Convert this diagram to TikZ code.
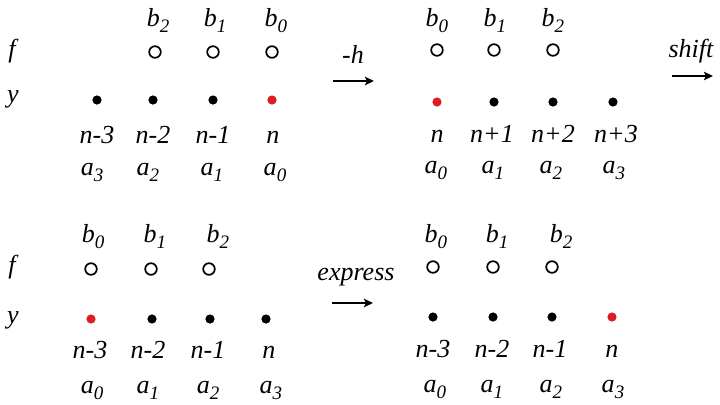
\documentclass[tikz,border=0pt]{standalone}
\usepackage{fontspec}
\setmainfont{Liberation Serif}
\usetikzlibrary{arrows.meta}
\definecolor{dotred}{RGB}{222,28,36}
\newcommand{\idx}[1]{\raisebox{-3pt}{\fontsize{9.5}{9.5}\selectfont #1}}

\tikzstyle{lab} = [anchor=base, inner sep=0pt, font=\fontsize{13}{13}\selectfont\itshape]
\tikzstyle{fdot} = [circle, draw=black, line width=0.85pt, fill=white, minimum size=5.8pt, inner sep=0pt]
\tikzstyle{ydot} = [circle, fill=black, minimum size=4.6pt, inner sep=0pt]
\tikzstyle{ydotred} = [circle, fill=dotred, minimum size=4.6pt, inner sep=0pt]
\tikzstyle{arrow} = [line width=1.1pt,-{Stealth[length=4.5pt,width=4.2pt,inset=1pt]}]

\begin{document}
\begin{tikzpicture}[x=0.5pt, y=-0.5pt]
\useasboundingbox (0,0) rectangle (720,404);

% top left
\node (Af) [lab] at (12,57) {f};
\node (Ay) [lab] at (13,102) {y};
\node (Ab2) [lab] at (158,26) {b\idx{2}};
\node (Ab1) [lab] at (215,26) {b\idx{1}};
\node (Ab0) [lab] at (276,26) {b\idx{0}};
\node (Ac2) [fdot] at (155,52) {};
\node (Ac1) [fdot] at (213,52) {};
\node (Ac0) [fdot] at (272,52) {};
\node (Ad3) [ydot] at (97,100) {};
\node (Ad2) [ydot] at (153,100) {};
\node (Ad1) [ydot] at (213,100) {};
\node (Ad0) [ydotred] at (272,100) {};
\node (An3) [lab] at (97,143) {n-3};
\node (An2) [lab] at (153,143) {n-2};
\node (An1) [lab] at (213,143) {n-1};
\node (An0) [lab] at (273,143) {n};
\node (Aa3) [lab] at (92,175) {a\idx{3}};
\node (Aa2) [lab] at (148,175) {a\idx{2}};
\node (Aa1) [lab] at (212,175) {a\idx{1}};
\node (Aa0) [lab] at (275,175) {a\idx{0}};

% -h
\node (hlab) [lab] at (353,63) {-h};
\coordinate (h1) at (333,81);
\coordinate (h2) at (374,81);
\draw [arrow] (h1) -- (h2);

% top right
\node (Bb0) [lab] at (437,26) {b\idx{0}};
\node (Bb1) [lab] at (495,26) {b\idx{1}};
\node (Bb2) [lab] at (553,26) {b\idx{2}};
\node (Bc0) [fdot] at (437,50) {};
\node (Bc1) [fdot] at (494,50) {};
\node (Bc2) [fdot] at (553,50) {};
\node (Bd0) [ydotred] at (437,102) {};
\node (Bd1) [ydot] at (494,102) {};
\node (Bd2) [ydot] at (553,102) {};
\node (Bd3) [ydot] at (613,102) {};
\node (Bn0) [lab] at (437,142) {n};
\node (Bn1) [lab] at (492,142) {n+1};
\node (Bn2) [lab] at (553,142) {n+2};
\node (Bn3) [lab] at (616,142) {n+3};
\node (Ba0) [lab] at (436,173) {a\idx{0}};
\node (Ba1) [lab] at (493,173) {a\idx{1}};
\node (Ba2) [lab] at (551,173) {a\idx{2}};
\node (Ba3) [lab] at (614,173) {a\idx{3}};

% shift
\node (slab) [lab] at (691,57) {shift};
\coordinate (s1) at (672,76);
\coordinate (s2) at (713,76);
\draw [arrow] (s1) -- (s2);

% bottom left
\node (Cf) [lab] at (12,273) {f};
\node (Cy) [lab] at (13,323) {y};
\node (Cb0) [lab] at (93,242) {b\idx{0}};
\node (Cb1) [lab] at (155,242) {b\idx{1}};
\node (Cb2) [lab] at (218,242) {b\idx{2}};
\node (Cc0) [fdot] at (91,269) {};
\node (Cc1) [fdot] at (151,269) {};
\node (Cc2) [fdot] at (209,269) {};
\node (Cd0) [ydotred] at (91,319) {};
\node (Cd1) [ydot] at (152,319) {};
\node (Cd2) [ydot] at (210,319) {};
\node (Cd3) [ydot] at (266,319) {};
\node (Cn0) [lab] at (90,358) {n-3};
\node (Cn1) [lab] at (148,358) {n-2};
\node (Cn2) [lab] at (208,358) {n-1};
\node (Cn3) [lab] at (269,358) {n};
\node (Ca0) [lab] at (92,393) {a\idx{0}};
\node (Ca1) [lab] at (148,393) {a\idx{1}};
\node (Ca2) [lab] at (208,393) {a\idx{2}};
\node (Ca3) [lab] at (271,393) {a\idx{3}};

% express
\node (elab) [lab] at (356,280) {express};
\coordinate (e1) at (332,303);
\coordinate (e2) at (373,303);
\draw [arrow] (e1) -- (e2);

% bottom right
\node (Db0) [lab] at (436,242) {b\idx{0}};
\node (Db1) [lab] at (497,242) {b\idx{1}};
\node (Db2) [lab] at (561,242) {b\idx{2}};
\node (Dc0) [fdot] at (433,267) {};
\node (Dc1) [fdot] at (493,267) {};
\node (Dc2) [fdot] at (552,267) {};
\node (Dd0) [ydot] at (433,317) {};
\node (Dd1) [ydot] at (493,317) {};
\node (Dd2) [ydot] at (552,317) {};
\node (Dd3) [ydotred] at (612,317) {};
\node (Dn0) [lab] at (433,357) {n-3};
\node (Dn1) [lab] at (492,357) {n-2};
\node (Dn2) [lab] at (550,357) {n-1};
\node (Dn3) [lab] at (612,357) {n};
\node (Da0) [lab] at (435,392) {a\idx{0}};
\node (Da1) [lab] at (492,392) {a\idx{1}};
\node (Da2) [lab] at (551,392) {a\idx{2}};
\node (Da3) [lab] at (613,392) {a\idx{3}};
\end{tikzpicture}
\end{document}
